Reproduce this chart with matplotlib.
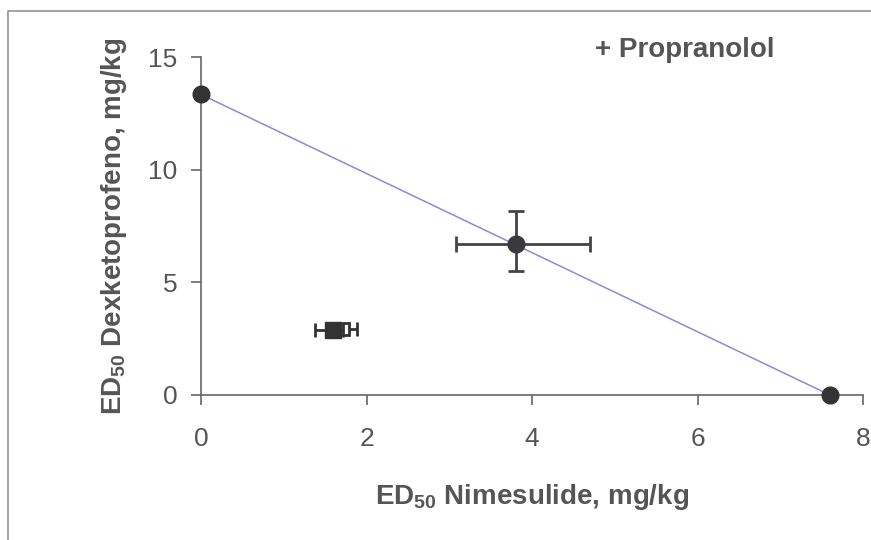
import matplotlib
matplotlib.use("Agg")
import matplotlib.pyplot as plt
from matplotlib.patches import Rectangle

plt.rcParams['font.family'] = ['Liberation Sans', 'DejaVu Sans']
plt.rcParams['mathtext.fontset'] = 'custom'
plt.rcParams['mathtext.rm'] = 'Liberation Sans'
plt.rcParams['mathtext.bf'] = 'Liberation Sans:bold'

# Isobole end points (individual ED50 values)
iso_x = [0.0, 7.6]
iso_y = [13.35, 0.0]

# Theoretical additive point
theo_x = [3.81]
theo_y = [6.69]
theo_xerr = [[0.73], [0.89]]
theo_yerr = [[1.19], [1.50]]

# Experimental point (filled square)
exp_x = [1.60]
exp_y = [2.90]
exp_xerr = [[0.22], [0.12]]
exp_yerr = [[0.12], [0.12]]

# Open square (overlapping)
open_x = [1.72]
open_y = [2.95]
open_xerr = [[0.12], [0.17]]
open_yerr = [[0.15], [0.2]]

xticks = [0, 2, 4, 6, 8]
yticks = [0, 5, 10, 15]

fig = plt.figure(figsize=(8.71, 5.40), dpi=100)
fig.patch.set_facecolor('white')

# outer frame (partially visible)
fig.patches.append(Rectangle((8/871, -0.1), 1.2, (540-11)/540 + 0.1,
                             transform=fig.transFigure, fill=False,
                             edgecolor='#8a8a8a', linewidth=1.1))

ax = fig.add_axes([201/871, 145/540, 662/871, 337.7/540])
ax.set_xlim(0, 8)
ax.set_ylim(0, 15)
for s in ['top', 'right']:
    ax.spines[s].set_visible(False)
for s in ['left', 'bottom']:
    ax.spines[s].set_color('#666666')
    ax.spines[s].set_linewidth(1.2)

ax.plot(iso_x, iso_y, color='#8a8ad8', linewidth=1.1, zorder=2)
ax.plot(iso_x, iso_y, 'o', color='#333333', markersize=12, clip_on=False, zorder=4)

ax.errorbar(theo_x, theo_y, xerr=theo_xerr, yerr=theo_yerr, fmt='o',
            color='#3a3a3a', ecolor='#444444', elinewidth=2, capsize=5.5,
            capthick=2, markersize=12, zorder=3)

ax.errorbar(open_x, open_y, xerr=open_xerr, yerr=open_yerr, fmt='s',
            mfc='white', mec='#333333', mew=2, ecolor='#333333',
            elinewidth=2, capsize=5, capthick=2, markersize=9, zorder=3)
ax.errorbar(exp_x, exp_y, xerr=exp_xerr, yerr=exp_yerr, fmt='s',
            color='#333333', ecolor='#333333', elinewidth=2, capsize=5,
            capthick=2, markersize=11, zorder=4)

ax.set_xticks(xticks)
ax.set_yticks(yticks)
ax.tick_params(direction='out', length=7, width=1.2, color='#666666',
               labelsize=19, labelcolor='#555555')
ax.tick_params(axis='x', pad=16)
ax.tick_params(axis='y', pad=10)

ax.set_xlabel(r'$\mathbf{ED_{50}}$ Nimesulide, mg/kg', fontsize=20,
              fontweight='bold', color='#555555', labelpad=22)
ax.set_ylabel(r'$\mathbf{ED_{50}}$ Dexketoprofeno, mg/kg', fontsize=20,
              fontweight='bold', color='#555555', labelpad=14)

ax.text(0.595, 1.022, '+ Propranolol', transform=ax.transAxes, fontsize=20,
        fontweight='bold', color='#555555', ha='left', va='center')

fig.savefig('out.png', dpi=100)
